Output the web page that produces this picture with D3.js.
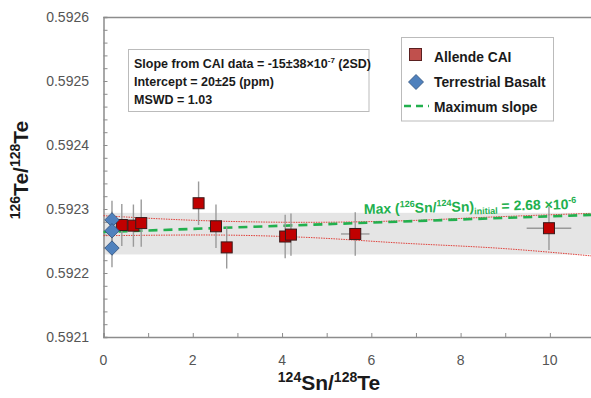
<!DOCTYPE html>
<html>
<head>
<meta charset="utf-8">
<title>Te-Sn isochron</title>
<script src="https://cdn.jsdelivr.net/npm/d3@7"></script>
<style>
  body { margin: 0; background: #fff; }
  svg { display: block; }
  .narrow { font-family: "Liberation Sans Narrow", "Arial Narrow", "Liberation Sans", Arial, sans-serif; }
</style>
</head>
<body>
<div id="chart"></div>
<script>
// Allende CAI points
var caiX    = [0.41, 0.67, 0.845, 2.13, 2.52, 2.76, 4.07, 4.20, 5.64, 9.98];
var caiY    = [0.592275, 0.592274, 0.592278, 0.592309, 0.592273, 0.592240, 0.592257, 0.592260, 0.592261, 0.592270];
var caiYErr = [0.000033, 0.000033, 0.000037, 0.000034, 0.000034, 0.000033, 0.000034, 0.000033, 0.000034, 0.000034];
var caiXErr = [0, 0, 0, 0, 0, 0, 0, 0, 0.32, 0.5];

// terrestrial basalt
var basaltX    = [0.19, 0.19, 0.19];
var basaltY    = [0.592283, 0.592266, 0.592239];
var basaltYErr = [0.00003, 0.00003, 0.00003];

// regression envelope
var envX     = [0, 2.28, 4.5, 6.76, 8.88, 10.95];
var envUpper = [0.5922895, 0.5922817, 0.5922792, 0.5922817, 0.592288, 0.5922933];
var envLower = [0.5922583, 0.5922594, 0.5922558, 0.5922464, 0.5922386, 0.5922266];

// terrestrial range band and max slope line
var bandY = [0.592229, 0.592294];
var maxSlopeX = [0, 11];
var maxSlopeY = [0.592264, 0.592291];

var xTicks = [0, 2, 4, 6, 8, 10];
var yTicks = [0.5921, 0.5922, 0.5923, 0.5924, 0.5925, 0.5926];

var W = 591, H = 398;
var m = {left: 103.5, top: 17, bottom: 337};

var svg = d3.select("#chart").append("svg")
  .attr("width", W).attr("height", H);

var x = d3.scaleLinear().domain([0, 11]).range([m.left, 594.5]);
var y = d3.scaleLinear().domain([0.5921, 0.5926]).range([m.bottom, m.top]);

var axisCol = "#8c8c8c";

// gray band
svg.append("rect")
  .attr("x", x(0)).attr("y", y(bandY[1]))
  .attr("width", x(11) - x(0)).attr("height", y(bandY[0]) - y(bandY[1]))
  .attr("fill", "#e5e5e5");

// axes frame
svg.append("line").attr("x1", x(0)).attr("x2", W).attr("y1", m.top + 0.5).attr("y2", m.top + 0.5)
  .attr("stroke", axisCol).attr("stroke-width", 1.3);

var yAxis = d3.axisRight(y).tickValues(d3.range(0, 26).map(function (i) { return 0.5921 + i * 0.00002; }))
  .tickSize(4).tickFormat("");
svg.append("g").attr("transform", "translate(" + x(0) + ",0)").call(yAxis)
  .call(function (g) {
    g.select(".domain").attr("stroke", axisCol).attr("stroke-width", 1.5);
    g.selectAll(".tick line").attr("stroke", axisCol);
  });

var xAxis = d3.axisTop(x).tickValues(d3.range(0, 11)).tickSize(4).tickFormat("");
svg.append("g").attr("transform", "translate(0," + m.bottom + ")").call(xAxis)
  .call(function (g) {
    g.select(".domain").attr("stroke", axisCol).attr("stroke-width", 1.5);
    g.selectAll(".tick line").attr("stroke", axisCol);
  });

// tick labels
svg.append("g").selectAll("text").data(yTicks).join("text")
  .attr("x", 89).attr("y", function (d) { return y(d); }).attr("dy", "0.36em")
  .attr("text-anchor", "end")
  .attr("font-family", "Liberation Sans, Arial, sans-serif").attr("font-size", 14).attr("fill", "#555")
  .text(function (d) { return d3.format(".4f")(d); });

svg.append("g").selectAll("text").data(xTicks).join("text")
  .attr("x", function (d) { return x(d); }).attr("y", 360).attr("dy", "0.36em")
  .attr("text-anchor", "middle")
  .attr("font-family", "Liberation Sans, Arial, sans-serif").attr("font-size", 14).attr("fill", "#555")
  .text(function (d) { return d; });

// envelope curves
var env = d3.line().curve(d3.curveMonotoneX)
  .x(function (d) { return x(d[0]); }).y(function (d) { return y(d[1]); });
[envUpper, envLower].forEach(function (arr) {
  svg.append("path").datum(d3.zip(envX, arr))
    .attr("d", env).attr("fill", "none")
    .attr("stroke", "#e0403a").attr("stroke-width", 1).attr("stroke-dasharray", "1.5,1");
});

// max slope line
svg.append("path").datum(d3.zip(maxSlopeX, maxSlopeY))
  .attr("d", d3.line().x(function (d) { return x(d[0]); }).y(function (d) { return y(d[1]); }))
  .attr("fill", "none").attr("stroke", "#22b04e").attr("stroke-width", 2.6)
  .attr("stroke-dasharray", "9,6");

// error bars
var cai = caiX.map(function (v, i) { return {x: v, y: caiY[i], ey: caiYErr[i], ex: caiXErr[i]}; });
var basalt = basaltX.map(function (v, i) { return {x: v, y: basaltY[i], ey: basaltYErr[i], ex: 0}; });
var errG = svg.append("g").attr("stroke", "#9a9a9a").attr("stroke-width", 1.4);
cai.concat(basalt).forEach(function (d) {
  errG.append("line").attr("x1", x(d.x)).attr("x2", x(d.x))
    .attr("y1", y(d.y - d.ey)).attr("y2", y(d.y + d.ey));
  if (d.ex > 0) {
    errG.append("line").attr("x1", x(d.x - d.ex)).attr("x2", x(d.x + d.ex))
      .attr("y1", y(d.y)).attr("y2", y(d.y));
  }
});

// markers
var sq = 11;
svg.append("g").selectAll("rect").data(cai).join("rect")
  .attr("x", function (d) { return x(d.x) - sq / 2; })
  .attr("y", function (d) { return y(d.y) - sq / 2; })
  .attr("width", sq).attr("height", sq)
  .attr("fill", "#c00000").attr("stroke", "#3a1a1a").attr("stroke-width", 1);

var dia = 7.2;
svg.append("g").selectAll("path").data(basalt).join("path")
  .attr("d", function (d) {
    var cx = x(d.x), cy = y(d.y);
    return "M" + cx + "," + (cy - dia) + "L" + (cx + dia) + "," + cy + "L" + cx + "," + (cy + dia) + "L" + (cx - dia) + "," + cy + "Z";
  })
  .attr("fill", "#4f81bd").attr("stroke", "#2f4f7a").attr("stroke-width", 0.8);

// stats box
svg.append("rect").attr("x", 128.5).attr("y", 49.5).attr("width", 240.5).attr("height", 62)
  .attr("fill", "#fff").attr("stroke", "#bbb");
var stats = svg.append("g").attr("class", "narrow").attr("font-weight", "bold").attr("font-size", 12.5).attr("fill", "#1a1a1a");
var t1 = stats.append("text").attr("x", 134).attr("y", 67.5);
t1.append("tspan").text("Slope from CAI data = -15\u00b138\u00d710");
t1.append("tspan").attr("font-size", 8).attr("dy", -5).text("-7");
t1.append("tspan").attr("dy", 5).text(" (2SD)");
stats.append("text").attr("x", 134).attr("y", 86).text("Intercept = 20\u00b125 (ppm)");
stats.append("text").attr("x", 134).attr("y", 104).text("MSWD = 1.03");

// legend
svg.append("rect").attr("x", 401.5).attr("y", 37.5).attr("width", 152).attr("height", 83.5)
  .attr("fill", "#fff").attr("stroke", "#bbb");
svg.append("rect").attr("x", 409.5).attr("y", 48.5).attr("width", 12).attr("height", 12)
  .attr("fill", "#c0504d").attr("stroke", "#5a2020");
var lx = 416, ly = 82, ld = 7.5;
svg.append("path").attr("d", "M" + lx + "," + (ly - ld) + "L" + (lx + ld) + "," + ly + "L" + lx + "," + (ly + ld) + "L" + (lx - ld) + "," + ly + "Z")
  .attr("fill", "#4f81bd").attr("stroke", "#2f4f7a").attr("stroke-width", 0.8);
svg.append("line").attr("x1", 404).attr("x2", 429).attr("y1", 106).attr("y2", 106)
  .attr("stroke", "#22b04e").attr("stroke-width", 2.6).attr("stroke-dasharray", "7,5");
var legG = svg.append("g").attr("class", "narrow").attr("font-weight", "bold").attr("font-size", 13.8).attr("fill", "#1a1a1a");
legG.append("text").attr("x", 434).attr("y", 62).text("Allende CAI");
legG.append("text").attr("x", 434).attr("y", 87).text("Terrestrial Basalt");
legG.append("text").attr("x", 434).attr("y", 112).text("Maximum slope");

// max slope annotation
var ann = svg.append("text").attr("class", "narrow").attr("font-weight", "bold").attr("font-size", 14)
  .attr("fill", "#22b04e").attr("transform", "translate(364,214) rotate(-1.4)");
ann.append("tspan").text("Max (");
ann.append("tspan").attr("font-size", 9).attr("dy", -6).text("126");
ann.append("tspan").attr("dy", 6).text("Sn/");
ann.append("tspan").attr("font-size", 9).attr("dy", -6).text("124");
ann.append("tspan").attr("dy", 6).text("Sn)");
ann.append("tspan").attr("font-size", 9).attr("dy", 3).text("initial");
ann.append("tspan").attr("dy", -3).text(" = 2.68 \u00d710");
ann.append("tspan").attr("font-size", 9).attr("dy", -6).text("-6");

// axis titles
var xt = svg.append("text").attr("x", 329).attr("y", 390).attr("text-anchor", "middle")
  .attr("font-family", "Liberation Sans, Arial, sans-serif").attr("font-weight", "bold").attr("font-size", 21).attr("fill", "#1a1a1a");
xt.append("tspan").attr("font-size", 14).attr("dy", -8).text("124");
xt.append("tspan").attr("dy", 8).text("Sn/");
xt.append("tspan").attr("font-size", 14).attr("dy", -8).text("128");
xt.append("tspan").attr("dy", 8).text("Te");

var yt = svg.append("text").attr("transform", "translate(28,170) rotate(-90)").attr("text-anchor", "middle")
  .attr("font-family", "Liberation Sans, Arial, sans-serif").attr("font-weight", "bold").attr("font-size", 21).attr("fill", "#1a1a1a");
yt.append("tspan").attr("font-size", 14).attr("dy", -8).text("126");
yt.append("tspan").attr("dy", 8).text("Te/");
yt.append("tspan").attr("font-size", 14).attr("dy", -8).text("128");
yt.append("tspan").attr("dy", 8).text("Te");
</script>
</body>
</html>
